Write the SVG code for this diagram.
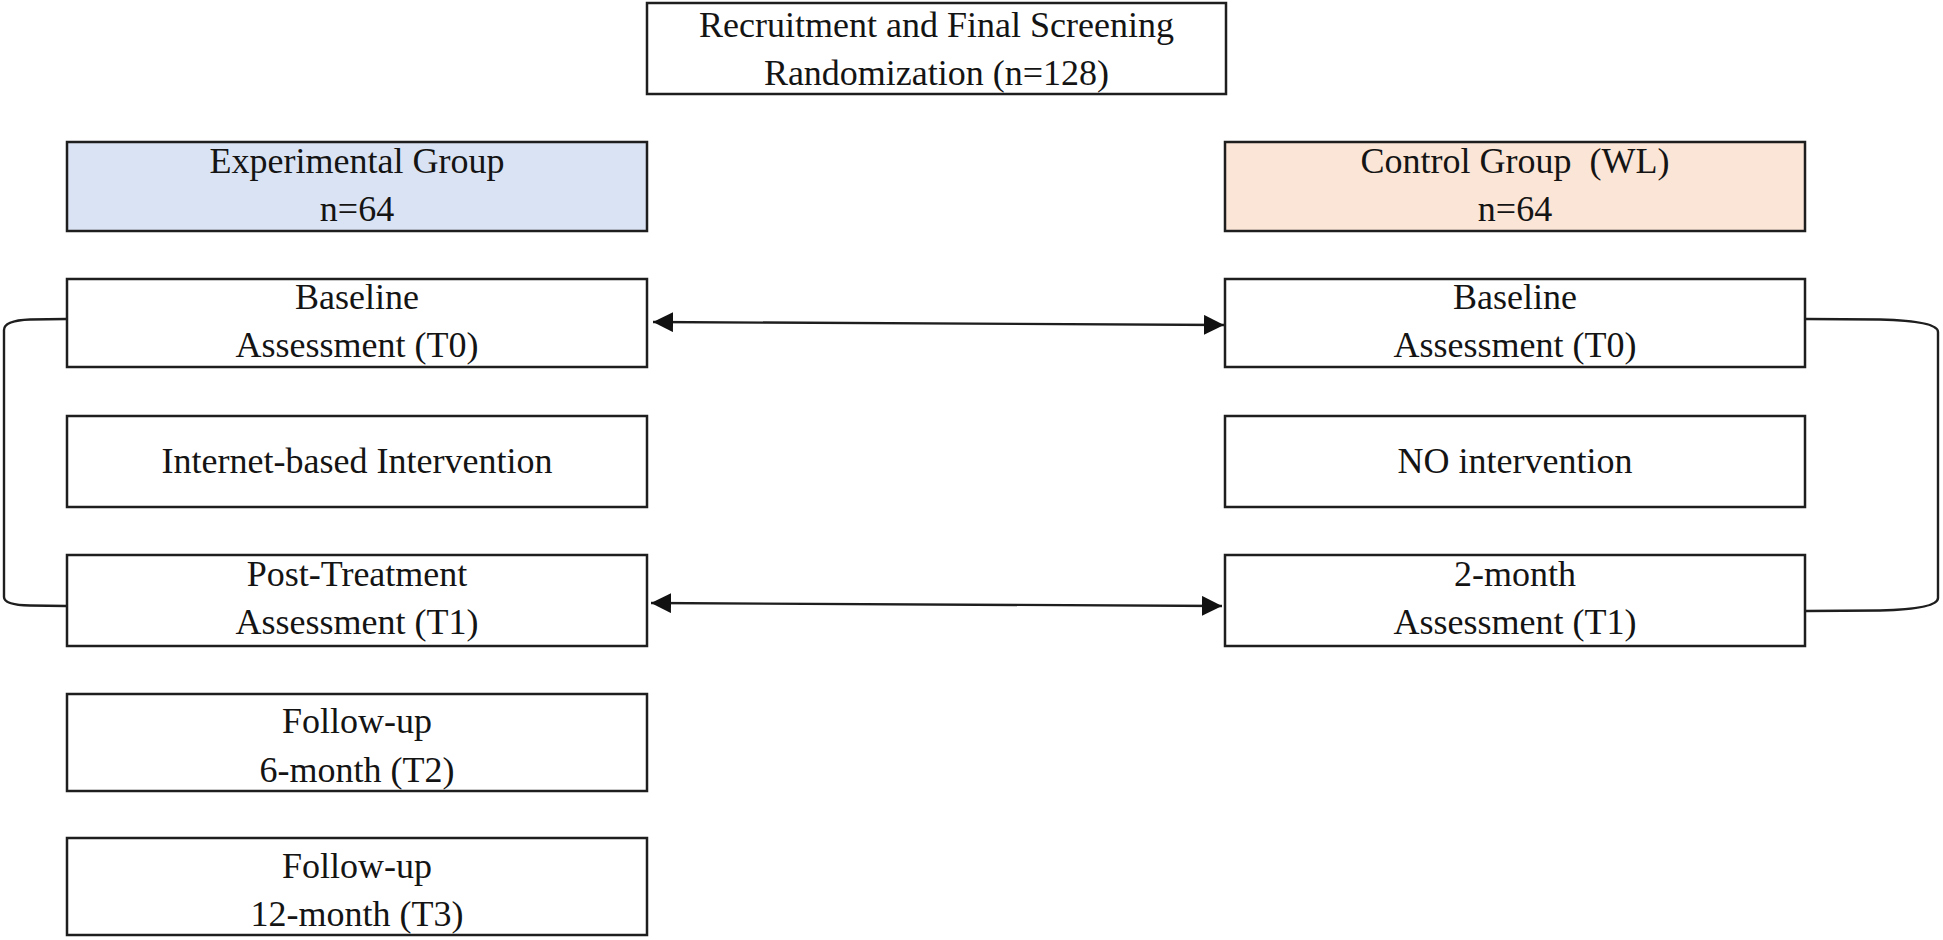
<svg xmlns="http://www.w3.org/2000/svg" width="1943" height="940" viewBox="0 0 1943 940">
<style>
.box{fill:#ffffff;stroke:#1e1e1e;stroke-width:2.5}
.exp{fill:#dae3f3}
.ctl{fill:#fbe5d6}
text{font-family:"Liberation Serif","Times New Roman",serif;font-size:36px;fill:#141414;text-anchor:middle;white-space:pre}
.conn{fill:none;stroke:#1e1e1e;stroke-width:2.4}
</style>
<defs>
<marker id="ah" markerUnits="userSpaceOnUse" markerWidth="20" markerHeight="20" viewBox="0 0 20 20" refX="20" refY="10" orient="auto-start-reverse">
<path d="M0,0 L20,10 L0,20 Z" fill="#111"/>
</marker>
</defs>
<rect width="1943" height="940" fill="#ffffff"/>
<g id="recruitment">
<rect class="box" x="647" y="3" width="579" height="91"/>
<text x="936.5" y="37">Recruitment and Final Screening</text>
<text x="936.5" y="85">Randomization (n=128)</text>
</g>
<g id="experimental-group">
<rect class="box exp" x="67" y="142" width="580" height="89"/>
<text x="357" y="173">Experimental Group</text>
<text x="357" y="221">n=64</text>
</g>
<g id="control-group">
<rect class="box ctl" x="1225" y="142" width="580" height="89"/>
<text x="1515" y="173">Control Group  (WL)</text>
<text x="1515" y="221">n=64</text>
</g>
<g id="exp-baseline">
<rect class="box" x="67" y="279" width="580" height="88"/>
<text x="357" y="309">Baseline</text>
<text x="357" y="357">Assessment (T0)</text>
</g>
<g id="ctl-baseline">
<rect class="box" x="1225" y="279" width="580" height="88"/>
<text x="1515" y="309">Baseline</text>
<text x="1515" y="357">Assessment (T0)</text>
</g>
<g id="exp-intervention">
<rect class="box" x="67" y="416" width="580" height="91"/>
<text x="357" y="473">Internet-based Intervention</text>
</g>
<g id="ctl-intervention">
<rect class="box" x="1225" y="416" width="580" height="91"/>
<text x="1515" y="473">NO intervention</text>
</g>
<g id="exp-post">
<rect class="box" x="67" y="555" width="580" height="91"/>
<text x="357" y="586">Post-Treatment</text>
<text x="357" y="634">Assessment (T1)</text>
</g>
<g id="ctl-post">
<rect class="box" x="1225" y="555" width="580" height="91"/>
<text x="1515" y="586">2-month</text>
<text x="1515" y="634">Assessment (T1)</text>
</g>
<g id="followup-6">
<rect class="box" x="67" y="694" width="580" height="97"/>
<text x="357" y="733">Follow-up</text>
<text x="357" y="782">6-month (T2)</text>
</g>
<g id="followup-12">
<rect class="box" x="67" y="838" width="580" height="97"/>
<text x="357" y="878">Follow-up</text>
<text x="357" y="926">12-month (T3)</text>
</g>
<g id="connectors">
<line class="conn" x1="653" y1="322" x2="1224" y2="325" marker-start="url(#ah)" marker-end="url(#ah)"/>
<line class="conn" x1="651" y1="603" x2="1222" y2="606" marker-start="url(#ah)" marker-end="url(#ah)"/>
<path class="conn" d="M66,319 L30,319.5 Q4,320.5 4,330 L4,597 Q4,605 30,605.5 L66,606"/>
<path class="conn" d="M1806,319 L1880,319.5 Q1938,321 1938,332 L1938,598 Q1938,609 1880,610.5 L1806,611"/>
</g>
</svg>
